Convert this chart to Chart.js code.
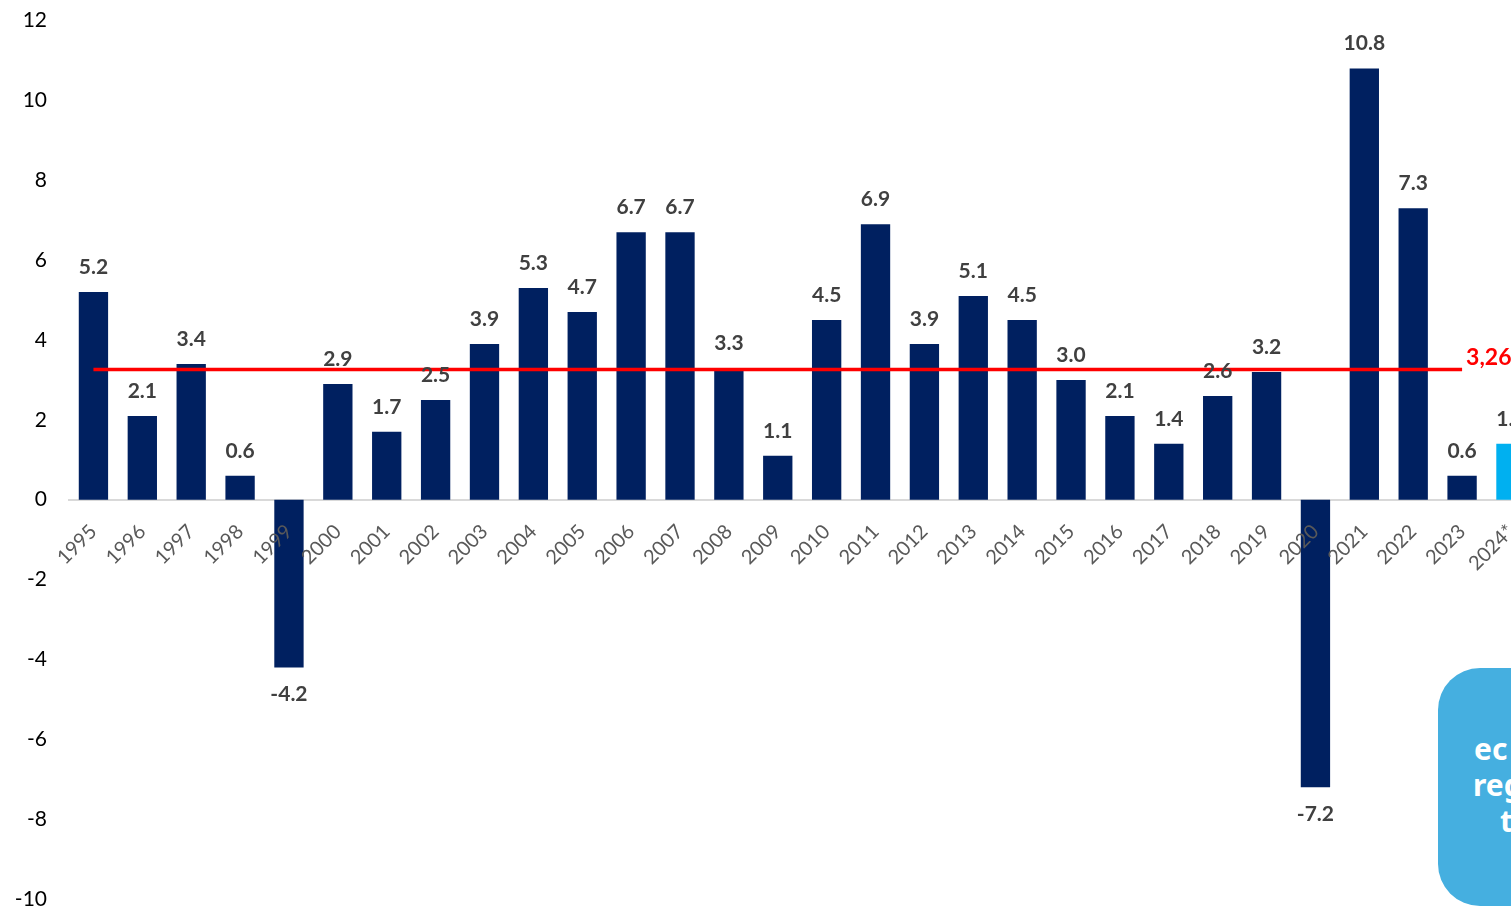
<!DOCTYPE html>
<html>
<head>
<meta charset="utf-8">
<script src="https://cdn.jsdelivr.net/npm/chart.js@4.4.1/dist/chart.umd.min.js"></script>
<style>
  html, body { margin: 0; padding: 0; background: #fff; overflow: hidden; }
  #wrap { position: relative; width: 1540px; height: 908px; }
  #cv { position: absolute; left: 0; top: -6px; width: 1540px; height: 950px; }
  #box {
    position: absolute; left: 1438px; top: 668px; width: 200px; height: 238px;
    background: #45afe0; border-radius: 42px; color: #fff;
    font-family: "Noto Sans", sans-serif; font-weight: bold; font-size: 30px;
  }
  #box span { position: absolute; line-height: 30px; }
</style>
</head>
<body>
<div id="wrap">
  <div id="cv"><canvas id="chart"></canvas></div>
  <div id="box">
    <span style="left:36px; top:66px;">ec</span>
    <span style="left:35px; top:102px;">reg</span>
    <span style="left:62px; top:138px;">t</span>
  </div>
</div>
<script>
const years = ['1995','1996','1997','1998','1999','2000','2001','2002','2003','2004',
  '2005','2006','2007','2008','2009','2010','2011','2012','2013','2014',
  '2015','2016','2017','2018','2019','2020','2021','2022','2023','2024*'];
const growth = [5.2, 2.1, 3.4, 0.6, -4.2, 2.9, 1.7, 2.5, 3.9, 5.3,
  4.7, 6.7, 6.7, 3.3, 1.1, 4.5, 6.9, 3.9, 5.1, 4.5,
  3.0, 2.1, 1.4, 2.6, 3.2, -7.2, 10.8, 7.3, 0.6, 1.4];
const average = 3.26;
const averageLabel = '3,26';

const barColors = years.map(y => y.endsWith('*') ? '#00b0f0' : '#002060');
const avgLine = years.map(y => y.endsWith('*') ? null : average);

// etiquetas de valor sobre/bajo las barras y etiqueta de la media
const labelsPlugin = {
  id: 'valueLabels',
  afterDatasetsDraw(chart) {
    const ctx = chart.ctx;
    ctx.save();
    ctx.textAlign = 'center';
    ctx.textBaseline = 'middle';
    ctx.font = 'bold 21px Lato';
    ctx.fillStyle = '#404040';
    chart.getDatasetMeta(0).data.forEach((el, i) => {
      const v = growth[i];
      const y = v >= 0 ? el.y - 25 : el.y + 27;
      ctx.fillText(v.toFixed(1), el.x, y);
    });
    const line = chart.getDatasetMeta(1).data;
    const last = line[avgLine.lastIndexOf(average)];
    ctx.font = 'bold 23px Lato';
    ctx.fillStyle = '#ff0000';
    ctx.textAlign = 'left';
    ctx.fillText(averageLabel, last.x + 4, last.y - 12);
    ctx.restore();
  }
};

const ctx = document.getElementById('chart');
const chart = new Chart(ctx, {
  data: {
    labels: years,
    datasets: [{
      type: 'bar',
      data: growth,
      backgroundColor: barColors,
      barPercentage: 0.6,
      categoryPercentage: 1.0,
      order: 2
    }, {
      type: 'line',
      data: avgLine,
      borderColor: '#ff0000',
      borderWidth: 3.5,
      pointRadius: 0,
      order: 1
    }]
  },
  options: {
    responsive: true,
    maintainAspectRatio: false,
    animation: false,
    events: [],
    layout: { padding: { top: 19, bottom: 45, left: 0, right: 4 } },
    plugins: { legend: { display: false }, tooltip: { enabled: false } },
    scales: {
      x: {
        position: { y: 0 },
        grid: { display: false },
        border: { display: true, color: '#d9d9d9', width: 2 },
        ticks: {
          z: 1,
          color: '#595959',
          font: { family: 'Lato', size: 20 },
          minRotation: 45,
          maxRotation: 45,
          padding: 12
        }
      },
      y: {
        min: -10,
        max: 12,
        grid: { display: false },
        border: { display: false },
        afterFit(scale) { scale.width = 69; },
        ticks: {
          stepSize: 2,
          color: '#000',
          font: { family: 'Lato', size: 21 },
          padding: 14
        }
      }
    }
  },
  plugins: [labelsPlugin]
});
</script>
</body>
</html>
